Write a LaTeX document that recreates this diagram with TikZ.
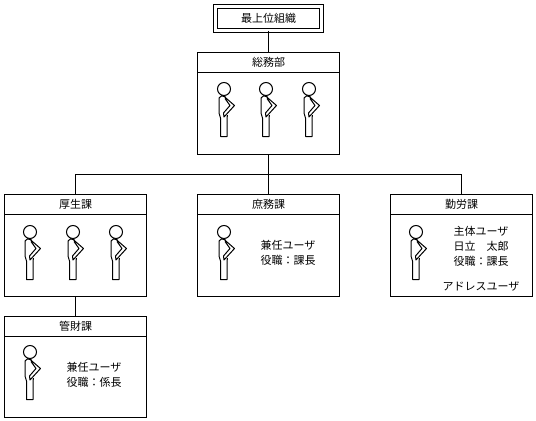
\documentclass[tikz,border=0pt]{standalone}
\usepackage{fontspec}
\usetikzlibrary{positioning}
\newfontfamily\jpfont{Noto Sans CJK JP}
\tikzset{
    every node/.style={font=\jpfont\fontsize{8.25pt}{11.25pt}\selectfont, inner sep=0pt, outer sep=0pt},
    titlebox/.style={draw, line width=0.75pt, minimum width=106.5pt, minimum height=15pt},
    bodybox/.style={draw, line width=0.75pt, minimum width=106.5pt, minimum height=61.5pt},
    wire/.style={line width=0.75pt},
    person/.pic={
        \draw [line width=0.75pt, fill=white] (0,0) circle [radius=6.5];
        \draw [line width=0.75pt, line join=round] (-2,6.5) -- (-5,9) -- (-5,24) -- (-3.5,29) -- (-3.5,47.5)
            -- (3,47.5) -- (3,29) -- (3.5,26);
        \draw [line width=0.75pt, line join=round] (-1,6.5) -- (10.5,16.5) -- (0,28) -- (-0.5,24) -- (6,16.5) -- (1,9.5);
        \draw [line width=0.9pt] (-2,7) -- (1.5,7.5);
    }
}
\begin{document}
\begin{tikzpicture}[x=0.75pt,y=-0.75pt]
    \useasboundingbox (0,0) rectangle (536,421);
    % top unit
    \node (top) [draw, line width=0.75pt, double, double distance=2.25pt, minimum width=79.5pt, minimum height=18pt] at (268.5,18.5) {最上位組織};
    % boxes
    \node (somu) [titlebox] at (268.5,62.5) {総務部};
    \node (somubody) [bodybox, below=0pt of somu] {};
    \node (kosei) [titlebox] at (75.5,204.5) {厚生課};
    \node (koseibody) [bodybox, below=0pt of kosei] {};
    \node (shomu) [titlebox] at (268.5,204.5) {庶務課};
    \node (shomubody) [bodybox, below=0pt of shomu] {};
    \node (kinro) [titlebox] at (461.5,204.5) {勤労課};
    \node (kinrobody) [bodybox, below=0pt of kinro] {};
    \node (kanzai) [titlebox] at (75.5,326.5) {管財課};
    \node (kanzaibody) [bodybox, minimum height=60.4pt, below=0pt of kanzai] {};
    % connectors
    \coordinate (bus) at (268.5,174.5);
    \draw [wire] (top) -- (somu);
    \draw [wire] (somubody) -- (bus);
    \draw [wire] (bus) -- (shomu);
    \draw [wire] (kosei.north) |- (bus);
    \draw [wire] (kinro.north) |- (bus);
    \draw [wire] (koseibody) -- (kanzai);
    % people
    \foreach \x/\y in {224/89, 266/89, 309/89, 30/232, 73/232, 116/232, 224/232, 416/232, 30/352}{
        \pic at (\x,\y) {person};
    }
    % texts
    \node (shomutext) [align=center] at (288,252.5) {兼任ユーザ\\役職：課長};
    \node (kinrotext) [align=center] at (481,246) {主体ユーザ\\日立　太郎\\役職：課長};
    \node (address) at (481,286.5) {アドレスユーザ};
    \node (kanzaitext) [align=center] at (94,374.5) {兼任ユーザ\\役職：係長};
\end{tikzpicture}
\end{document}
